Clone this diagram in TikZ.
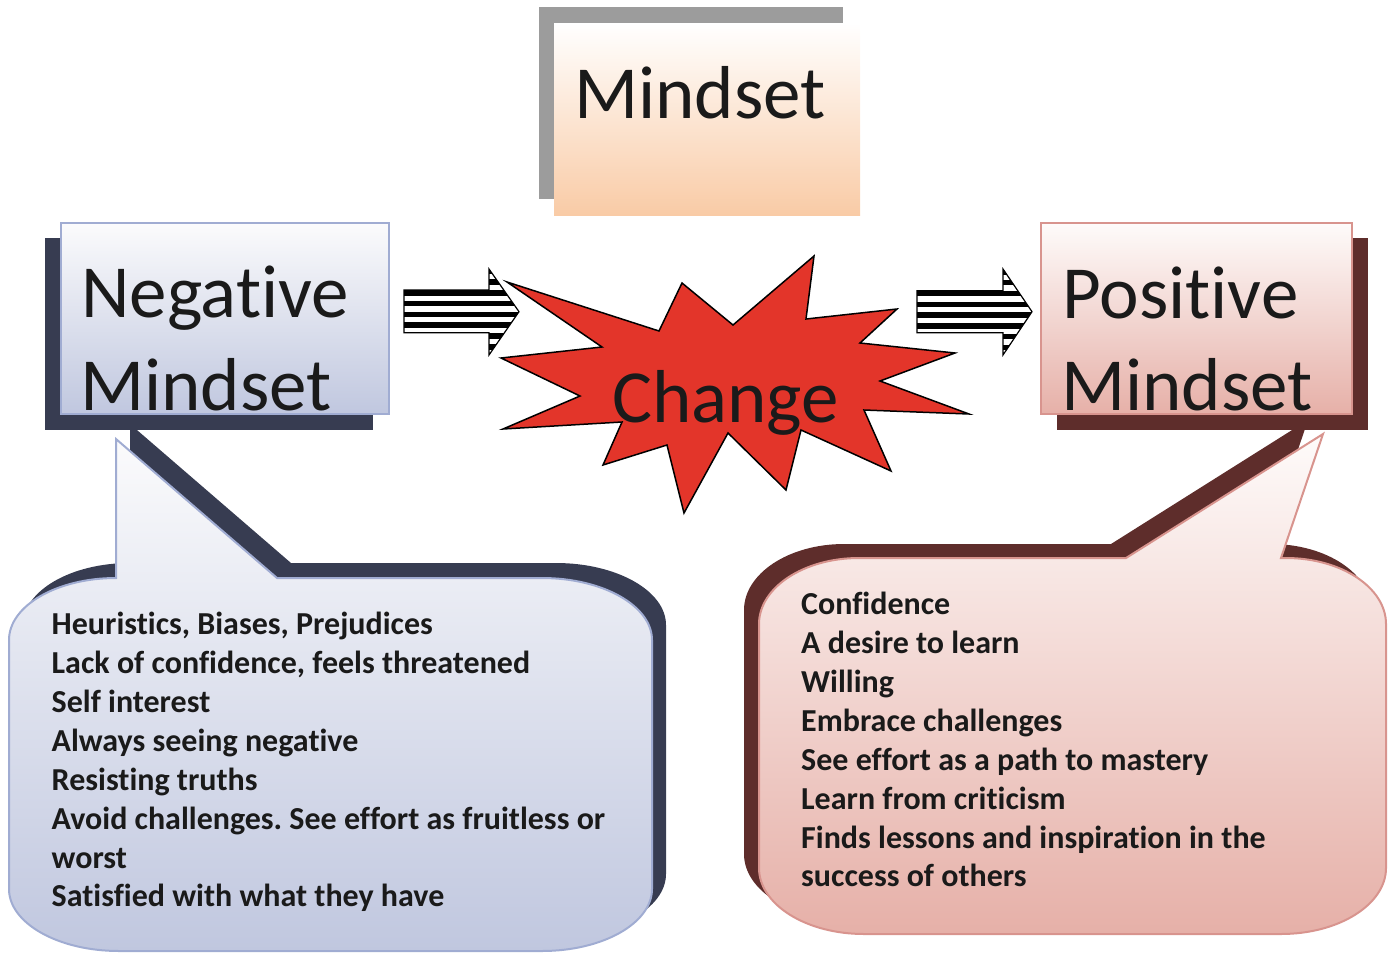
\documentclass[tikz,border=0pt]{standalone}
\usepackage{fontspec}
\setmainfont{Carlito}[Ligatures=NoCommon]
\definecolor{inkc}{RGB}{26,26,26}
\definecolor{peach}{RGB}{249,203,166}
\definecolor{peachmid}{RGB}{252,230,212}
\definecolor{greyshadow}{RGB}{156,156,156}
\definecolor{navyshadow}{RGB}{55,60,81}
\definecolor{brownshadow}{RGB}{94,45,43}
\definecolor{negtop}{RGB}{251,251,252}
\definecolor{negbot}{RGB}{192,199,223}
\definecolor{negline}{RGB}{160,172,210}
\definecolor{postop}{RGB}{254,251,250}
\definecolor{posbot}{RGB}{230,176,168}
\definecolor{posline}{RGB}{216,148,142}
\definecolor{burst}{RGB}{227,53,42}
\frenchspacing
\begin{document}
\begin{tikzpicture}[x=1pt,y=-1pt,
  bigtext/.style={font=\fontsize{75}{75}\selectfont, inner sep=0pt, anchor=base west, text=inkc},
  listtext/.style={font=\fontsize{32}{39}\selectfont\bfseries, inner sep=0pt, anchor=base west, text=inkc},
  negfill/.style={top color=negtop, bottom color=negbot, draw=negline, line width=2pt},
  posfill/.style={top color=postop, bottom color=posbot, draw=posline, line width=2pt},
  stripedge/.style={draw=black, line width=1.2pt, line join=miter}]
\useasboundingbox (0,0) rectangle (1394,953);

% ---------- title box ----------
\fill[greyshadow] (539,7) rectangle (843,199);
\path[top color=white, middle color=peachmid, bottom color=peach] (554,23) rectangle (860,215);
\node[bigtext] (title) at (574,118) {Mindset};

% ---------- striped arrows ----------
\newcommand{\leftarrowpath}{(404,290) -- (489,290) -- (489,269) -- (519,311.7) -- (489,355) -- (489,332.7) -- (404,332.7) -- cycle}
\newcommand{\rightarrowpath}{(917,290.7) -- (1003,290.7) -- (1003,269) -- (1032,311.7) -- (1003,355) -- (1003,332.7) -- (917,332.7) -- cycle}
\begin{scope}
  \clip \leftarrowpath;
  \fill[white] (400,260) rectangle (525,360);
  \foreach \k in {-2,...,6}
    \fill[black] (400,{290+10.8*\k}) rectangle (525,{295.5+10.8*\k});
\end{scope}
\draw[stripedge] \leftarrowpath;
\begin{scope}
  \clip \rightarrowpath;
  \fill[white] (910,260) rectangle (1040,360);
  \foreach \k in {-2,...,6}
    \fill[black] (910,{290.7+10.8*\k}) rectangle (1040,{296.2+10.8*\k});
\end{scope}
\draw[stripedge] \rightarrowpath;

% ---------- burst ----------
\filldraw[fill=burst, draw=black, line width=1.5pt, line join=miter]
  (507,282) -- (659,331) -- (682,283) -- (733,325) -- (814,256) -- (806,319)
  -- (897,309) -- (860,343) -- (955,353) -- (880,381) -- (969,414) -- (864,410)
  -- (891,471) -- (801,430) -- (786,490) -- (728,433) -- (684,513) -- (667,445)
  -- (603,465) -- (622,422) -- (503,429) -- (580,396) -- (501,358) -- (602,347) -- cycle;
\node[bigtext, anchor=base] (change) at (725.5,422) {Change};

% ---------- box shadows ----------
\fill[navyshadow] (45,238) rectangle (373,430);
\fill[brownshadow] (1057,238) rectangle (1368,430);

% ---------- callout outlines ----------
\newcommand{\negcallout}{(9,640) .. controls (9,605.8) and (56.9,578) .. (116,578)
  -- (116,439) -- (277,578) -- (542,578)
  .. controls (602.7,578) and (652,605.8) .. (652,640) -- (652,889)
  .. controls (652,923.2) and (602.7,951) .. (542,951) -- (119,951)
  .. controls (58.3,951) and (9,923.2) .. (9,889) -- cycle}
\newcommand{\poscallout}{(759,624) .. controls (759,587.6) and (803.8,558) .. (859,558)
  -- (1126,558) -- (1323,434) -- (1281,558) -- (1286,558)
  .. controls (1341.2,558) and (1386,587.6) .. (1386,624) -- (1386,868)
  .. controls (1386,904.4) and (1339,934) .. (1281,934) -- (864,934)
  .. controls (806,934) and (759,904.4) .. (759,868) -- cycle}

\begin{scope}[shift={(14,-15)}]
  \fill[navyshadow] \negcallout;
\end{scope}
\path[negfill] \negcallout;

\begin{scope}[shift={(-15,-14)}]
  \fill[brownshadow] \poscallout;
\end{scope}
\path[posfill] \poscallout;

% ---------- mindset boxes ----------
\path[negfill] (61,223) rectangle (389,414);
\node[bigtext] (negA) at (81,317) {Negative};
\node[bigtext] (negB) at (80,410) {Mindset};

\path[posfill] (1041,223) rectangle (1352,414);
\node[bigtext] (posA) at (1062,318) {Positive};
\node[bigtext] (posB) at (1061,410) {Mindset};

% ---------- lists ----------
\foreach \t [count=\i from 0] in {{Heuristics, Biases, Prejudices},
    {Lack of confidence, feels threatened}, {Self interest},
    {Always seeing negative}, {Resisting truths},
    {Avoid challenges. See effort as fruitless or}, {worst},
    {Satisfied with what they have}}
  \node[listtext] (neg\i) at (51.5,{634.3+38.95*\i}) {\t};

\foreach \t [count=\i from 0] in {{Confidence}, {A desire to learn}, {Willing},
    {Embrace challenges}, {See effort as a path to mastery},
    {Learn from criticism}, {Finds lessons and inspiration in the},
    {success of others}}
  \node[listtext] (pos\i) at (801,{614.6+38.9*\i}) {\t};
\end{tikzpicture}
\end{document}
